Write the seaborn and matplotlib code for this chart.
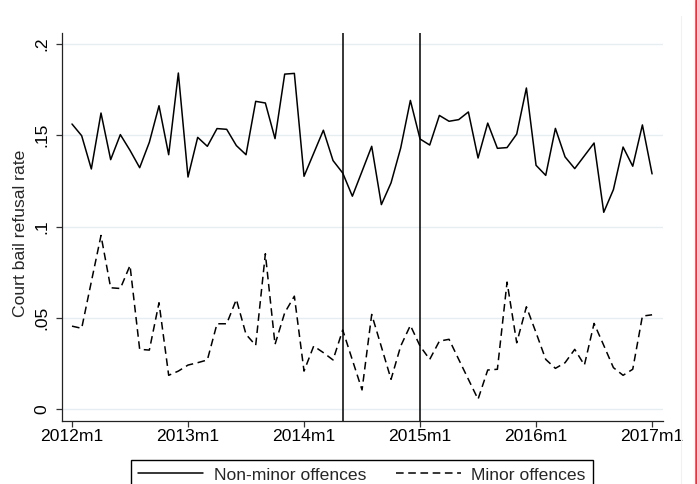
import matplotlib
matplotlib.use("Agg")
import matplotlib.pyplot as plt
from matplotlib.lines import Line2D
import numpy as np
import pandas as pd
import seaborn as sns

# Monthly court bail refusal rates, 2012m1 .. 2017m1 (61 months)
months = list(range(61))
non_minor = [
    0.1561, 0.1497, 0.1315, 0.1621, 0.1366, 0.1503, 0.1417, 0.1322, 0.1461, 0.1661,
    0.1393, 0.1840, 0.1271, 0.1488, 0.1439, 0.1536, 0.1532, 0.1443, 0.1393, 0.1685,
    0.1676, 0.1481, 0.1834, 0.1838, 0.1275, 0.1401, 0.1527, 0.1361, 0.1293, 0.1166,
    0.1302, 0.1439, 0.1120, 0.1239, 0.1430, 0.1690, 0.1479, 0.1446, 0.1608, 0.1576,
    0.1585, 0.1627, 0.1375, 0.1566, 0.1428, 0.1432, 0.1506, 0.1758, 0.1335, 0.1280,
    0.1537, 0.1381, 0.1317, 0.1387, 0.1457, 0.1078, 0.1202, 0.1435, 0.1330, 0.1556,
    0.1288,
]
minor = [
    0.0455, 0.0443, 0.0698, 0.0951, 0.0665, 0.0661, 0.0787, 0.0328, 0.0324, 0.0583,
    0.0186, 0.0209, 0.0242, 0.0255, 0.0270, 0.0468, 0.0468, 0.0601, 0.0410, 0.0350,
    0.0851, 0.0355, 0.0528, 0.0619, 0.0209, 0.0346, 0.0310, 0.0270, 0.0434, 0.0270,
    0.0106, 0.0519, 0.0342, 0.0164, 0.0346, 0.0459, 0.0346, 0.0273, 0.0373, 0.0383,
    0.0273, 0.0164, 0.0055, 0.0215, 0.0219, 0.0696, 0.0364, 0.0561, 0.0419, 0.0273,
    0.0224, 0.0255, 0.0328, 0.0242, 0.0470, 0.0350, 0.0228, 0.0186, 0.0219, 0.0510,
    0.0517,
]
series_names = ["Non-minor offences", "Minor offences"]
x_ticks = [0, 12, 24, 36, 48, 60]
x_tick_labels = ["2012m1", "2013m1", "2014m1", "2015m1", "2016m1", "2017m1"]
y_ticks = [0, 0.05, 0.1, 0.15, 0.2]
y_tick_labels = ["0", ".05", ".1", ".15", ".2"]
reform_months = [28, 36]  # 2014m5 and 2015m1

df = pd.DataFrame({
    "month": months * 2,
    "rate": non_minor + minor,
    "offence": [series_names[0]] * len(months) + [series_names[1]] * len(months),
})

sns.set_theme(style="white")
plt.rcParams["font.family"] = ["Liberation Sans", "DejaVu Sans"]

W, H = 697, 484
FS = 12.6
fig = plt.figure(figsize=(W / 100, H / 100), dpi=100)
ax = fig.add_axes([62 / W, 1 - 420.5 / H, (663 - 62) / W, (420.5 - 33) / H])

grid_col = "#e6eef2"
for yt in y_ticks:
    ax.axhline(yt, color=grid_col, lw=1.0, zorder=0)

sns.lineplot(
    data=df, x="month", y="rate", style="offence",
    dashes={series_names[0]: "", series_names[1]: (5, 3)},
    color="black", linewidth=1.1, ax=ax, legend=False,
)

for m in reform_months:
    ax.axvline(m, color="black", lw=1.1, zorder=3)

ax.set_xlim(-1.034, 61.13)
ax.set_ylim(-0.00613, 0.2059)

ax.set_xticks(x_ticks)
ax.set_xticklabels(x_tick_labels)
ax.set_yticks(y_ticks)
ax.set_yticklabels(y_tick_labels, rotation=90, va="center")

ax.tick_params(axis="both", which="major", direction="out", length=4, width=0.9,
               color="#333333", labelsize=FS, labelcolor="black", bottom=True, left=True)
ax.tick_params(axis="x", pad=2)
ax.tick_params(axis="y", pad=5)

for side in ["top", "right"]:
    ax.spines[side].set_visible(False)
for side in ["left", "bottom"]:
    ax.spines[side].set_color("#222222")
    ax.spines[side].set_linewidth(0.9)

ax.set_xlabel("")
ax.set_ylabel("")
fig.text(20.5 / W, 1 - 233 / H, "Court bail refusal rate", rotation=90,
         ha="center", va="center", fontsize=FS)

handles = [
    Line2D([], [], color="black", lw=1.1),
    Line2D([], [], color="black", lw=1.1, dashes=(5, 3)),
]
leg = fig.legend(
    handles, series_names, loc="upper center",
    bbox_to_anchor=(362 / W, 1 - 460 / H), ncol=2, fontsize=FS,
    frameon=True, fancybox=False, edgecolor="black", framealpha=1,
    handlelength=3.7, handletextpad=0.6, columnspacing=1.7, borderpad=0.42,
    borderaxespad=0,
)
leg.get_frame().set_linewidth(1.0)

# Outer graph-region edges on the right
fig.add_artist(Line2D([680.5 / W] * 2, [0, 1 - 16 / H], color="#eef2f2", lw=0.8))
fig.add_artist(Line2D([695.6 / W] * 2, [0, 1], color="#e8333f", lw=1.8))

fig.savefig("out.png", dpi=100)
